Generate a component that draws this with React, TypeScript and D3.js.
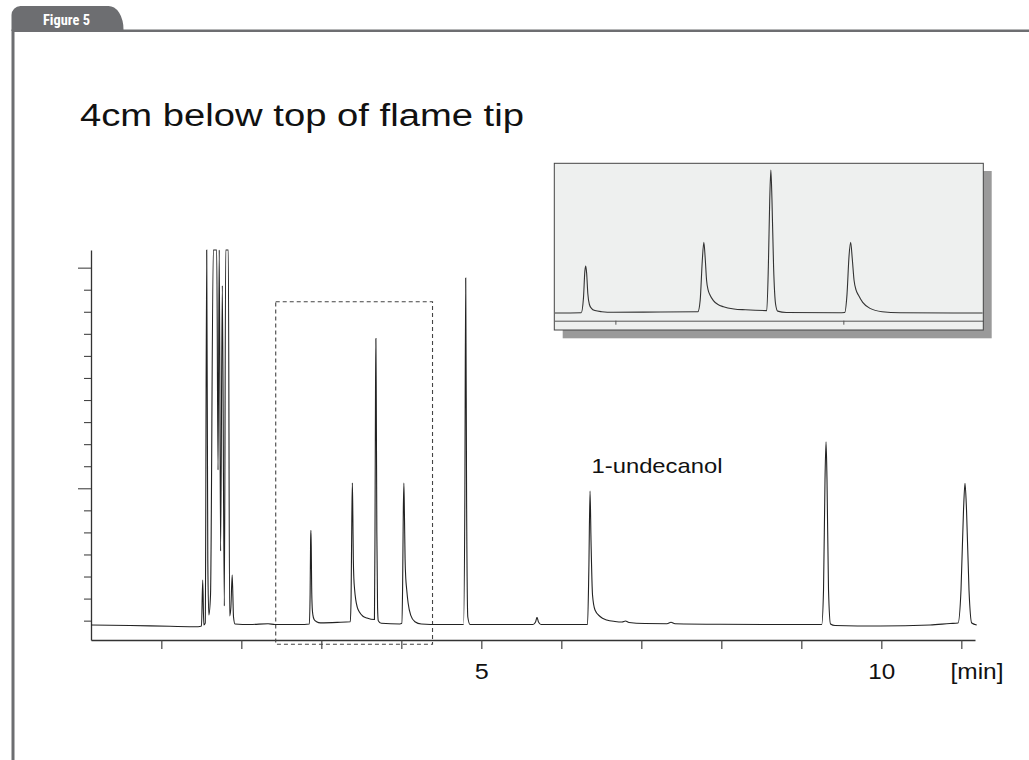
import React, { useEffect, useRef } from 'react';
import * as d3 from 'd3';

// retention time [min]
const retentionTime = [
  0.121, 0.609, 1.109, 1.459, 1.502, 1.5175, 1.531, 1.549, 1.5675, 1.581, 1.594, 1.615, 1.65, 1.6925,
  1.709, 1.724, 1.741, 1.7625, 1.7875, 1.805, 1.8375, 1.854, 1.869, 1.886, 1.9025, 1.921, 2.109, 2.334,
  2.42, 2.73,
  2.85, 2.86, 2.866, 2.87, 2.874, 2.879, 2.886, 2.895, 2.91, 2.94, 2.99, 3.2,
  3.362, 3.372, 3.381, 3.388, 3.394, 3.4, 3.407, 3.415, 3.43, 3.45, 3.474, 3.52, 3.57,
  3.664, 3.671, 3.677, 3.682, 3.687, 3.694, 3.703, 3.712, 3.75,
  3.98, 4.006, 4.016, 4.025, 4.032, 4.039, 4.047, 4.056, 4.066, 4.085, 4.117, 4.17, 4.25,
  4.484, 4.7775, 4.794, 4.805, 4.816, 4.831, 4.859,
  5.646, 5.6775, 5.696, 5.715, 5.746,
  6.3275, 6.344, 6.359, 6.371, 6.39, 6.421, 6.484, 6.5675, 6.671, 6.759, 6.8025, 6.846, 7.046, 7.321,
  7.371, 7.421, 7.984, 8.984,
  9.255, 9.2775, 9.296, 9.309, 9.321, 9.34, 9.365, 9.421, 9.984, 10.609, 10.859, 10.959, 10.996,
  11.0275, 11.046, 11.065, 11.096, 11.13, 11.1925,
];

// detector signal (arbitrary units, saturated peaks go above the frame)
const signal = [
  3.803, 3.78, 3.744, 3.726, 3.758, 5.843, 3.803, 3.894, 22, 6.75, 4.257, 5.163, 22, 22,
  10.83, 21, 7.158, 19.19, 4.665, 22, 22, 4.211, 4.574, 6.07, 4.166, 3.849, 3.826, 3.858,
  3.826, 3.826,
  3.85, 5.2, 7.6, 8.09, 7.4, 5.6, 4.6, 4.25, 4.05, 3.95, 3.9, 3.92,
  3.95, 5.0, 8.5, 10.24, 8.8, 6.8, 5.9, 5.46, 4.95, 4.6, 4.4, 4.2, 4.12,
  4.05, 8.0, 14.0, 16.79, 14.0, 8.0, 4.6, 4.0, 3.88,
  3.85, 3.88, 5.5, 9.0, 10.24, 8.8, 6.8, 5.9, 5.46, 4.8, 4.25, 3.95, 3.85,
  3.826, 3.826, 9.47, 19.53, 9.47, 4.166, 3.826,
  3.826, 3.939, 4.152, 3.939, 3.826,
  3.826, 6.297, 9.878, 7.657, 5.163, 4.483, 4.189, 4.03, 3.962, 3.939, 3.985, 3.917, 3.871, 3.862,
  3.926, 3.858, 3.835, 3.826,
  3.826, 5.39, 10.376, 12.11, 10.376, 5.39, 3.849, 3.781, 3.758, 3.803, 3.871, 3.894, 5.39,
  9.016, 10.227, 9.016, 5.39, 3.894, 3.803,
];

const xTicks = [1, 2, 3, 4, 5, 6, 7, 8, 9, 10, 11];
const xTickLabels = ['5', '10'];
const yTicks = [4, 5, 6, 7, 8, 9, 10, 11, 12, 13, 14, 15, 16, 17, 18, 19, 20];
const yMajorTicks = [10, 20];
const insetTicks = [3, 4];
const zoomWindow = [2.43, 4.39];
const insetWindow = [2.732, 4.614];

const title = '4cm below top of flame tip';
const peakLabel = '1-undecanol';
const figureTag = 'Figure 5';
const font = '"Liberation Sans", Arial, sans-serif';

export default function App() {
  const svgRef = useRef<SVGSVGElement>(null);

  useEffect(() => {
    if (!svgRef.current) return;
    const svg = d3.select(svgRef.current);
    svg.selectAll('*').remove();

    const data = retentionTime.map((t, i) => ({ t, v: signal[i] }));

    // frame + tab
    svg.append('rect').attr('x', 12).attr('y', 29.5).attr('width', 1017).attr('height', 2.5).attr('fill', '#6d6e71');
    svg.append('rect').attr('x', 11.5).attr('y', 29.5).attr('width', 3).attr('height', 731).attr('fill', '#6d6e71');
    svg.append('path')
      .attr('d', 'M11.5,31 V15 A9,9 0 0 1 20.5,6 H108 A15,23 0 0 1 123.5,30 V31 Z')
      .attr('fill', '#6d6e71');
    svg.append('text')
      .attr('x', 43).attr('y', 25)
      .attr('font-family', '"Liberation Sans Narrow", "Roboto Condensed", "Liberation Sans", sans-serif')
      .attr('font-weight', 'bold').attr('font-size', 14)
      .attr('textLength', 47).attr('lengthAdjust', 'spacingAndGlyphs')
      .attr('fill', '#fff').text(figureTag);

    svg.append('text')
      .attr('x', 80).attr('y', 126)
      .attr('font-family', font).attr('font-size', 31)
      .attr('textLength', 444).attr('lengthAdjust', 'spacingAndGlyphs')
      .attr('fill', '#111').text(title);

    // main scales
    const x = d3.scaleLinear().domain([0.121, 11.171]).range([91, 975]);
    const y = d3.scaleLinear().domain([3.123, 20.8]).range([640, 250]).clamp(true);

    const g = svg.append('g');

    const xAxis = g.append('g')
      .attr('transform', 'translate(0,640)')
      .call(d3.axisBottom(x).tickValues(xTicks).tickSize(9).tickSizeOuter(0)
        .tickFormat(d => (xTickLabels.includes(String(d)) ? String(d) : '')));
    xAxis.select('.domain').attr('stroke', '#333').attr('stroke-width', 1.3);
    xAxis.selectAll('.tick line').attr('stroke', '#444').attr('stroke-width', 1.2);
    xAxis.selectAll('.tick text')
      .attr('font-family', font).attr('font-size', 22).attr('fill', '#111').attr('dy', 0)
      .attr('y', 39).attr('transform', null)
      .each(function () {
        const el = d3.select(this);
        el.attr('textLength', el.text() === '5' ? 14 : 27).attr('lengthAdjust', 'spacingAndGlyphs');
      });

    g.append('text')
      .attr('x', 977).attr('y', 679).attr('text-anchor', 'middle')
      .attr('font-family', font).attr('font-size', 22)
      .attr('textLength', 53).attr('lengthAdjust', 'spacingAndGlyphs')
      .attr('fill', '#111').text('[min]');

    const yAxis = g.append('g')
      .attr('transform', 'translate(91,0)')
      .call(d3.axisLeft(y).tickValues(yTicks).tickSizeOuter(0).tickFormat(() => ''));
    yAxis.select('.domain').attr('stroke', '#333').attr('stroke-width', 1.3);
    yAxis.selectAll<SVGLineElement, number>('.tick line')
      .attr('stroke', '#444').attr('stroke-width', 1.1)
      .attr('x2', d => (yMajorTicks.includes(d) ? -13 : -7));

    // dashed zoom window
    g.append('rect')
      .attr('x', x(zoomWindow[0])).attr('y', 301.7)
      .attr('width', x(zoomWindow[1]) - x(zoomWindow[0])).attr('height', 342.6)
      .attr('fill', 'none').attr('stroke', '#444').attr('stroke-width', 1.1)
      .attr('stroke-dasharray', '4,3');

    const line = d3.line<{ t: number; v: number }>()
      .x(d => x(d.t))
      .y(d => y(d.v))
      .curve(d3.curveMonotoneX);

    g.append('path')
      .datum(data)
      .attr('fill', 'none')
      .attr('stroke', '#222')
      .attr('stroke-width', 1.1)
      .attr('d', line);

    g.append('text')
      .attr('x', 591.5).attr('y', 473.3)
      .attr('font-family', font).attr('font-size', 21)
      .attr('textLength', 131).attr('lengthAdjust', 'spacingAndGlyphs')
      .attr('fill', '#111').text(peakLabel);

    // inset
    const ix = d3.scaleLinear().domain(insetWindow).range([554.3, 983.3]);
    const iy = d3.scaleLinear().domain([2.29, 17.4]).range([330, 163.3]);
    const inset = svg.append('g');
    inset.append('rect')
      .attr('x', 562.7).attr('y', 171).attr('width', 429).attr('height', 167.3)
      .attr('fill', '#9a9a9a');
    inset.append('rect')
      .attr('x', 554.3).attr('y', 163.3).attr('width', 429).attr('height', 166.7)
      .attr('fill', '#eef0ef').attr('stroke', '#444').attr('stroke-width', 1);
    svg.append('defs').append('clipPath').attr('id', 'inset-clip')
      .append('rect').attr('x', 555).attr('y', 164).attr('width', 427.6).attr('height', 155.5);

    const insetAxis = inset.append('g')
      .attr('transform', 'translate(0,320.7)')
      .call(d3.axisBottom(ix).tickValues(insetTicks).tickSize(4).tickSizeOuter(0).tickFormat(() => ''));
    insetAxis.select('.domain').attr('stroke', '#555').attr('stroke-width', 1);
    insetAxis.selectAll('.tick line').attr('stroke', '#555');

    const insetLine = d3.line<{ t: number; v: number }>()
      .x(d => ix(d.t))
      .y(d => iy(d.v))
      .curve(d3.curveMonotoneX);

    inset.append('path')
      .datum(data.filter(d => d.t > 2.5 && d.t < 4.9))
      .attr('clip-path', 'url(#inset-clip)')
      .attr('fill', 'none')
      .attr('stroke', '#333')
      .attr('stroke-width', 1.1)
      .attr('d', insetLine);
  }, []);

  return (
    <div style={{ position: 'absolute', left: 0, top: 0, width: 1029, height: 760, background: '#fff' }}>
      <svg ref={svgRef} width={1029} height={760} style={{ display: 'block' }} />
    </div>
  );
}
